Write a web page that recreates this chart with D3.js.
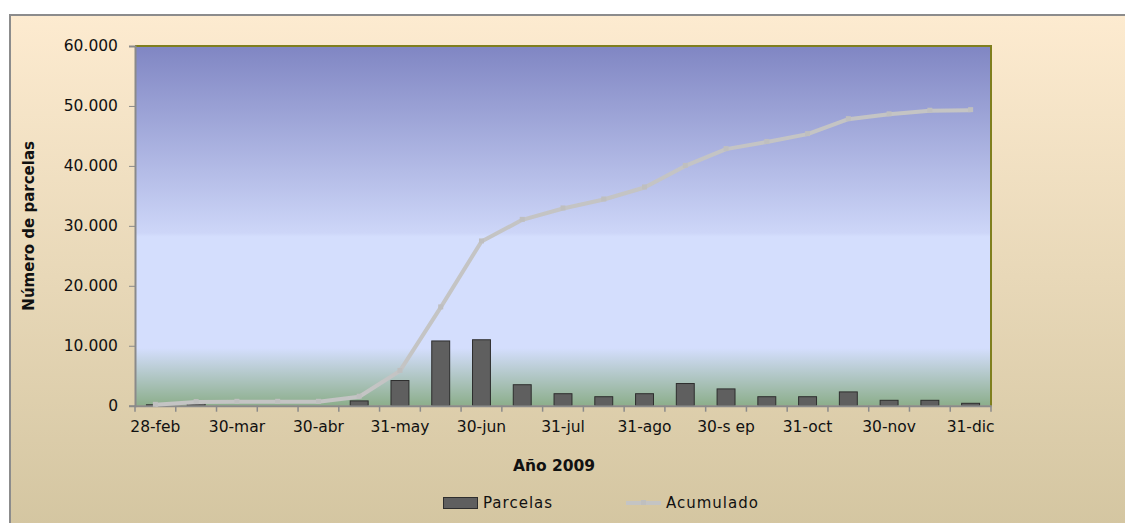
<!DOCTYPE html>
<html lang="es">
<head>
<meta charset="UTF-8">
<title>Parcelas 2009</title>
<style>
  body { margin: 0; background: #fff; }
  svg { display: block; font-family: "DejaVu Sans", sans-serif; }
  .axis path, .axis line { stroke: #8a8a8a; }
  .axis text { font-family: "DejaVu Sans", sans-serif; font-size: 15.5px; fill: #111; }
</style>
</head>
<body>
<script src="https://d3js.org/d3.v7.min.js"></script>
<script>
const width = 1125;
const height = 523;
// area del grafico (plot) dentro del marco
const plot = { left: 135, right: 991, top: 46, bottom: 405.7 };

// fechas (quincenas); solo se rotula una de cada dos
const categorias = ["28-feb", "15-mar", "30-mar", "15-abr", "30-abr", "15-may", "31-may",
  "15-jun", "30-jun", "15-jul", "31-jul", "15-ago", "31-ago", "15-sep", "30-s ep",
  "15-oct", "31-oct", "15-nov", "30-nov", "15-dic", "31-dic"];
const parcelas = [150, 450, 0, 0, 0, 800, 4200, 10800, 11000, 3500, 2000, 1500, 2000,
  3700, 2800, 1500, 1500, 2300, 900, 900, 400];
const acumulado = [150, 600, 650, 650, 650, 1500, 5800, 16400, 27400, 31000, 32900, 34400,
  36400, 40000, 42800, 44000, 45300, 47800, 48600, 49200, 49300];
const yTicks = [0, 10000, 20000, 30000, 40000, 50000, 60000];

const svg = d3.select("body").append("svg").attr("width", width).attr("height", height);
const defs = svg.append("defs");

const bgGrad = defs.append("linearGradient").attr("id", "bg").attr("x1", 0).attr("y1", 0).attr("x2", 0).attr("y2", 1);
bgGrad.append("stop").attr("offset", "0%").attr("stop-color", "#fdebd0");
bgGrad.append("stop").attr("offset", "100%").attr("stop-color", "#d3c5a0");

const plotGrad = defs.append("linearGradient").attr("id", "plotbg").attr("x1", 0).attr("y1", 0).attr("x2", 0).attr("y2", 1);
plotGrad.append("stop").attr("offset", "0%").attr("stop-color", "#8086c3");
plotGrad.append("stop").attr("offset", "52%").attr("stop-color", "#cdd6f8");
plotGrad.append("stop").attr("offset", "53%").attr("stop-color", "#d4defd");
plotGrad.append("stop").attr("offset", "84%").attr("stop-color", "#d4defd");
plotGrad.append("stop").attr("offset", "100%").attr("stop-color", "#8cae8b");

// marco exterior
svg.append("rect")
  .attr("x", 10).attr("y", 15).attr("width", width).attr("height", height)
  .attr("fill", "url(#bg)").attr("stroke", "#8c8c8c").attr("stroke-width", 2);

const x = d3.scaleBand().domain(categorias).range([plot.left, plot.right]);
const y = d3.scaleLinear().domain([0, 60000]).range([plot.bottom, plot.top]);
const fmt = d3.formatLocale({ decimal: ",", thousands: ".", grouping: [3], currency: ["", "€"] }).format(",");

svg.append("rect")
  .attr("x", plot.left).attr("y", plot.top)
  .attr("width", plot.right - plot.left).attr("height", plot.bottom - plot.top)
  .attr("fill", "url(#plotbg)");

// borde superior y derecho (oliva)
svg.append("path")
  .attr("d", `M${plot.left},${plot.top}H${plot.right}V${plot.bottom}`)
  .attr("fill", "none").attr("stroke", "#7f7f1e").attr("stroke-width", 2);

// eje Y
svg.append("g")
  .attr("class", "axis")
  .attr("transform", `translate(${plot.left},0)`)
  .call(d3.axisLeft(y).tickValues(yTicks).tickFormat(fmt).tickSize(6).tickPadding(11))
  .call(g => g.select(".domain").attr("stroke-width", 2));

// barras
const barW = x.bandwidth() * 0.44;
svg.append("g").selectAll("rect")
  .data(parcelas)
  .join("rect")
  .attr("x", (d, i) => x(categorias[i]) + (x.bandwidth() - barW) / 2)
  .attr("y", d => y(d))
  .attr("width", barW)
  .attr("height", d => plot.bottom - y(d))
  .attr("fill", "#5f5f5f")
  .attr("stroke", "#2e2e2e")
  .attr("stroke-width", 1);

// eje X: etiquetas cada dos categorias
const xAxis = svg.append("g")
  .attr("class", "axis")
  .attr("transform", `translate(0,${plot.bottom})`)
  .call(d3.axisBottom(x).tickValues(categorias.filter((c, i) => i % 2 === 0)).tickSize(0).tickPadding(15));
xAxis.select(".domain").attr("stroke-width", 2);
// marcas entre categorias
const bounds = categorias.map(c => x(c)).concat([plot.right]);
xAxis.selectAll(".sep")
  .data(bounds)
  .join("line")
  .attr("class", "sep")
  .attr("x1", d => d).attr("x2", d => d)
  .attr("y1", 0).attr("y2", 6)
  .attr("stroke", "#8a8a8a").attr("stroke-width", 1.5);

// linea acumulada
const cx = (d, i) => x(categorias[i]) + x.bandwidth() / 2;
svg.append("path")
  .datum(acumulado)
  .attr("d", d3.line().x(cx).y(d => y(d)))
  .attr("fill", "none")
  .attr("stroke", "#c4c4c4")
  .attr("stroke-width", 4)
  .attr("stroke-linejoin", "round");
svg.append("g").selectAll("rect")
  .data(acumulado)
  .join("rect")
  .attr("x", (d, i) => cx(d, i) - 2.5)
  .attr("y", d => y(d) - 3)
  .attr("width", 5).attr("height", 5)
  .attr("fill", "#bfbfbf");

// titulos de ejes
svg.append("text")
  .attr("transform", `translate(34,${(plot.top + plot.bottom) / 2}) rotate(-90)`)
  .attr("text-anchor", "middle")
  .attr("font-size", 15).attr("font-weight", "bold").attr("fill", "#111")
  .text("Número de parcelas");

svg.append("text")
  .attr("x", 554).attr("y", 471)
  .attr("text-anchor", "middle")
  .attr("font-size", 15.5).attr("font-weight", "bold").attr("fill", "#111")
  .text("Año 2009");

// leyenda
const legend = svg.append("g").attr("font-size", 15).attr("fill", "#111").attr("letter-spacing", 1);
legend.append("rect")
  .attr("x", 443.5).attr("y", 497.5).attr("width", 34).attr("height", 11)
  .attr("fill", "#5f5f5f").attr("stroke", "#2e2e2e");
legend.append("text").attr("x", 483).attr("y", 508).text("Parcelas");
legend.append("line")
  .attr("x1", 626).attr("x2", 661).attr("y1", 503).attr("y2", 503)
  .attr("stroke", "#c4c4c4").attr("stroke-width", 4);
legend.append("rect").attr("x", 641).attr("y", 500).attr("width", 5).attr("height", 5).attr("fill", "#bfbfbf");
legend.append("text").attr("x", 666).attr("y", 508).text("Acumulado");
</script>
</body>
</html>
